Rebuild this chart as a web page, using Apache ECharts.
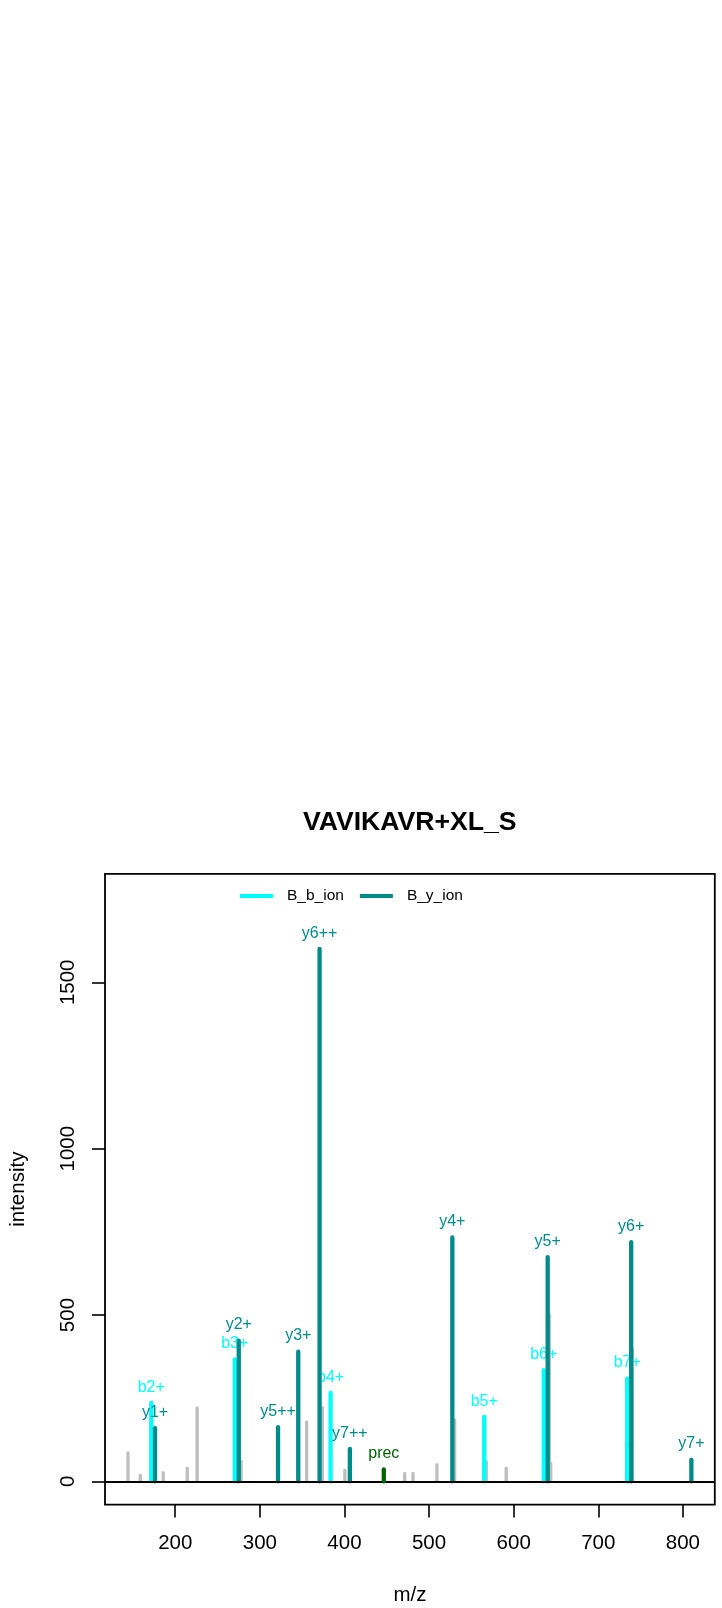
<!DOCTYPE html>
<html>
<head>
<meta charset="utf-8">
<title>VAVIKAVR+XL_S</title>
<script src="https://cdn.jsdelivr.net/npm/echarts@6/dist/echarts.min.js"></script>
<style>
  html, body { margin: 0; padding: 0; background: #ffffff; }
  #chart { width: 722px; height: 1608px; }
</style>
</head>
<body>
<div id="chart"></div>
<script>
// Annotated MS/MS spectrum of VAVIKAVR+XL_S

const mzTicks = [200, 300, 400, 500, 600, 700, 800];
const intensityTicks = [0, 500, 1000, 1500];

// unassigned peaks
const otherMz = [144.2, 158.7, 185.8, 214.2, 225.9, 277.8, 355.3, 373.9, 400.5, 471.2, 481.0,
                 509.3, 530.2, 567.6, 591.2, 642.2, 643.8, 733.4, 740.4];
const otherIntensity = [86, 18, 26, 40, 221, 60, 178, 222, 33, 24, 24,
                        50, 185, 60, 40, 501, 55, 115, 396];

// b ions
const bIonMz = [171.7, 270.4, 383.6, 565.2, 635.5, 734.2];
const bIonIntensity = [236, 367, 266, 194, 334, 309];
const bIonLabels = ['b2+', 'b3+', 'b4+', 'b5+', 'b6+', 'b7+'];

// y ions
const yIonMz = [176.1, 275.1, 321.5, 345.4, 370.6, 406.4, 527.5, 640.2, 738.9, 810.0];
const yIonIntensity = [160, 423, 163, 390, 1600, 98, 733, 674, 719, 65];
const yIonLabels = ['y1+', 'y2+', 'y5++', 'y3+', 'y6++', 'y7++', 'y4+', 'y5+', 'y6+', 'y7+'];

// precursor
const precMz = [446.5];
const precIntensity = [36];
const precLabels = ['prec'];

const FONT = '"Liberation Sans", Arial, Helvetica, sans-serif';

function stickSeries(name, mz, inten, labels, color, width, z) {
  return {
    type: 'custom',
    name: name,
    z: z,
    silent: true,
    clip: true,
    itemStyle: { color: color },
    data: mz.map((m, i) => [m, inten[i]]),
    renderItem: function (params, api) {
      const x = api.value(0);
      const top = api.coord([x, api.value(1)]);
      const base = api.coord([x, 0]);
      const children = [{
        type: 'line',
        shape: { x1: base[0], y1: base[1], x2: top[0], y2: top[1] },
        style: { stroke: color, lineWidth: width, lineCap: 'round' }
      }];
      if (labels) {
        children.push({
          type: 'text',
          style: {
            text: labels[params.dataIndex],
            x: top[0],
            y: top[1] - 15.7,
            fill: color,
            font: '16px ' + FONT,
            align: 'center',
            verticalAlign: 'middle',
            textAlign: 'center',
            textVerticalAlign: 'middle'
          }
        });
      }
      return { type: 'group', children: children };
    }
  };
}

const chart = echarts.init(document.getElementById('chart'), null, { renderer: 'canvas' });

const precSeries = stickSeries('prec', precMz, precIntensity, precLabels, '#006400', 4.3, 5);
precSeries.markLine = {
  silent: true,
  symbol: ['none', 'none'],
  label: { show: false },
  lineStyle: { color: '#000000', width: 1.8, type: 'solid' },
  data: [{ yAxis: 0 }]
};

const plainNumber = (v) => String(v);

chart.setOption({
  animation: false,
  backgroundColor: '#ffffff',
  textStyle: { fontFamily: FONT },
  title: {
    text: 'VAVIKAVR+XL_S',
    left: 303,
    top: 809,
    padding: 0,
    textStyle: { fontSize: 26.6, fontWeight: 'bold', color: '#000000', fontFamily: FONT }
  },
  legend: {
    left: 240,
    top: 888,
    padding: 0,
    itemWidth: 33,
    itemHeight: 4,
    itemGap: 16,
    selectedMode: false,
    data: [
      { name: 'B_b_ion', icon: 'rect' },
      { name: 'B_y_ion', icon: 'rect' }
    ],
    textStyle: { fontSize: 15.5, color: '#000000', fontFamily: FONT, padding: [0, 0, 0, 9] }
  },
  grid: {
    left: 103.6,
    right: 7.2,
    top: 873.8,
    bottom: 103.4,
    show: true,
    borderColor: '#000000',
    borderWidth: 1.8,
    backgroundColor: 'transparent',
    containLabel: false
  },
  xAxis: {
    type: 'value',
    min: 117.0,
    max: 837.7,
    name: 'm/z',
    nameLocation: 'middle',
    nameGap: 80,
    nameTextStyle: { fontSize: 20.5, color: '#000000', fontFamily: FONT },
    axisLine: { show: false, onZero: false },
    axisTick: {
      show: true, inside: false, length: 13,
      lineStyle: { color: '#000000', width: 1.6 },
      customValues: mzTicks
    },
    axisLabel: {
      show: true, margin: 28, fontSize: 20.5, color: '#000000', fontFamily: FONT,
      formatter: plainNumber,
      customValues: mzTicks
    },
    splitLine: { show: false }
  },
  yAxis: {
    type: 'value',
    min: -69.7,
    max: 1826,
    name: 'intensity',
    nameLocation: 'middle',
    nameRotate: 90,
    nameGap: 76,
    nameTextStyle: { fontSize: 20.5, color: '#000000', fontFamily: FONT },
    axisLine: { show: false, onZero: false },
    axisTick: {
      show: true, inside: false, length: 13,
      lineStyle: { color: '#000000', width: 1.6 },
      customValues: intensityTicks
    },
    axisLabel: {
      show: true, margin: 26, rotate: 90, fontSize: 20.5, color: '#000000', fontFamily: FONT,
      formatter: plainNumber,
      customValues: intensityTicks
    },
    splitLine: { show: false }
  },
  series: [
    stickSeries('other', otherMz, otherIntensity, null, '#bebebe', 3.3, 2),
    stickSeries('B_b_ion', bIonMz, bIonIntensity, bIonLabels, '#00ffff', 4.3, 3),
    stickSeries('B_y_ion', yIonMz, yIonIntensity, yIonLabels, '#008b8b', 4.3, 4),
    precSeries
  ]
});
</script>
</body>
</html>
